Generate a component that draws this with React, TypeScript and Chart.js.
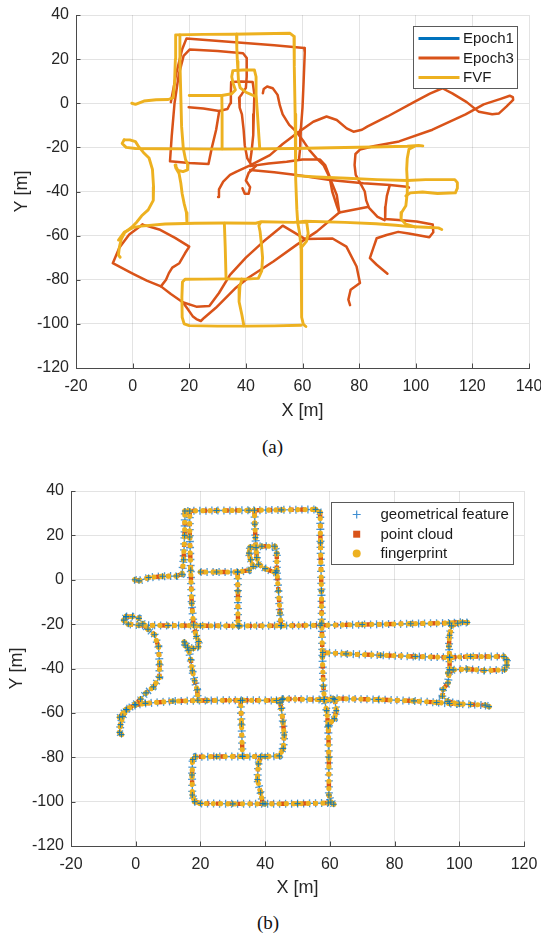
import React, { useEffect, useRef } from "react";
import { Chart, registerables } from "chart.js";

Chart.register(...registerables);

// ---------- axes ----------
const xTicksA = [-20, 0, 20, 40, 60, 80, 100, 120, 140];
const xTicksB = [-20, 0, 20, 40, 60, 80, 100, 120];
const yTicks = [-120, -100, -80, -60, -40, -20, 0, 20, 40];

// ---------- legends ----------
const legendA = ["Epoch1", "Epoch3", "FVF"];
const legendB = ["geometrical feature", "point cloud", "fingerprint"];

// ---------- FVF trajectory (segments, [x, y] in metres) ----------
const fvfA = [[-0.3, 0.0], [1.0, -0.5], [4.0, 1.0], [8.3, 1.6], [12.6, 1.7], [14.3, 2.5], [14.8, 9.0], [15.1, 20.0], [15.2, 31.0], [25.0, 31.2], [35.0, 31.3], [45.0, 31.5], [55.6, 31.7], [57.0, 30.3], [57.1, 16.6], [57.4, -5.0], [57.5, -19.6], [57.7, -34.7], [58.0, -48.0], [58.3, -54.0], [59.0, -59.0], [59.5, -66.0], [59.7, -80.0], [59.7, -97.0], [60.3, -100.2], [61.2, -101.2]];
const fvfB = [[59.5, -100.6], [50.0, -100.9], [40.0, -101.0], [30.0, -101.0], [20.0, -100.8], [18.2, -100.0], [17.5, -97.0], [17.4, -88.0], [17.6, -81.0], [18.5, -79.8], [25.0, -79.7], [33.0, -79.6], [40.0, -79.7], [44.4, -79.4], [45.6, -76.0], [45.9, -70.0], [45.5, -64.0], [45.0, -58.0], [44.6, -55.5], [45.2, -54.0]];
const fvfC = [[-5.0, -62.0], [-3.0, -58.5], [0.0, -56.4], [3.0, -55.7], [11.5, -54.7], [22.0, -54.4], [33.0, -54.3], [43.5, -54.4], [45.5, -53.7], [57.0, -54.0], [61.0, -53.5], [75.0, -54.0], [86.0, -54.6], [93.0, -55.3], [97.0, -55.8], [103.5, -56.2], [108.0, -56.5], [109.2, -57.2]];
const fvfD = [[-3.0, -16.6], [-1.0, -16.6], [1.0, -17.4], [2.2, -19.8], [3.8, -22.3], [5.8, -24.8], [7.0, -30.0], [7.4, -38.0], [7.3, -44.0], [5.5, -48.3], [3.2, -51.0], [1.5, -53.8], [-0.3, -56.2], [-2.8, -58.6], [-4.0, -61.6], [-4.7, -65.3], [-5.0, -68.8], [-4.4, -69.8]];
const fvfE = [[-3.0, -16.6], [-3.7, -18.2], [-2.3, -20.0], [1.0, -20.5], [10.0, -20.6], [20.0, -20.7], [32.0, -20.8], [45.0, -20.7], [57.0, -20.5], [70.0, -20.2], [85.0, -19.8], [97.0, -19.5], [101.0, -19.1], [102.5, -19.3]];
const fvfF = [[99.5, -19.6], [97.6, -20.8], [97.0, -25.0], [96.8, -30.0], [97.0, -35.0], [97.0, -40.5], [96.5, -46.5], [95.0, -49.5], [94.8, -52.5], [96.5, -54.8], [100.0, -56.1]];
const fvfG = [[57.8, -32.8], [65.0, -33.4], [75.7, -34.0], [86.4, -34.6], [97.0, -35.0], [103.5, -34.6], [113.8, -34.6], [114.7, -36.0], [114.7, -38.5], [114.0, -40.6], [107.7, -40.9], [102.4, -40.2], [98.1, -40.6], [96.5, -42.0]];
const fvfH = [[16.7, 31.0], [16.7, 19.3], [17.0, 4.3], [17.3, -10.6], [17.9, -20.4], [18.7, -25.6], [19.5, -27.8], [19.4, -30.2], [17.8, -31.0], [16.0, -30.4], [15.0, -28.0], [15.3, -29.5], [16.4, -31.8], [17.0, -36.0], [17.5, -41.0], [18.2, -45.5], [19.0, -49.6], [19.2, -54.3]];
const fvfI = [[20.0, 3.5], [25.0, 3.5], [31.5, 3.5], [35.0, 4.3], [36.3, 6.0], [35.5, 9.0], [35.0, 12.0], [35.4, 14.8], [39.0, 15.1], [43.0, 15.1], [43.6, 12.0], [43.6, 4.0], [44.1, -5.0], [44.6, -15.0], [44.9, -20.6]];
const fvfJ = [[31.5, 3.5], [31.6, -5.0], [31.6, -20.7]];
const fvfK = [[36.7, 31.3], [36.8, 25.0], [37.0, 19.0], [37.2, 14.5], [37.4, 10.0], [38.0, 7.0], [40.0, 5.0], [43.2, 3.2]];
const fvfL = [[32.4, -54.4], [32.7, -65.0], [33.0, -79.6]];
const fvfM = [[38.6, -79.7], [37.9, -83.0], [37.6, -90.0], [38.6, -96.0], [39.3, -100.9]];
const fvfN = [[58.2, -54.0], [61.5, -54.0], [62.0, -59.0], [61.4, -62.6], [59.5, -65.5]];
const fvfTrack = [fvfA, fvfB, fvfC, fvfD, fvfE, fvfF, fvfG, fvfH, fvfI, fvfJ, fvfK, fvfL, fvfM, fvfN];

// ---------- Epoch3 trajectory ----------
const e3A = [[13.5, 0.5], [15.5, 14.0], [17.5, 24.5], [19.0, 29.3], [35.0, 27.8], [50.0, 26.3], [60.6, 25.0], [60.8, 23.0], [60.4, 10.0], [60.0, -2.0], [59.4, -12.0], [59.2, -20.0], [58.8, -25.0]];
const e3B = [[30.6, -3.5], [29.5, -12.0], [28.0, -20.0], [26.8, -27.5], [20.0, -27.1], [13.2, -26.3], [13.8, -15.0], [14.8, 0.0], [16.3, 13.0], [18.0, 21.5], [20.2, 24.4], [30.0, 23.7], [39.0, 22.7], [40.3, 20.5], [40.3, 12.0], [40.0, 7.0], [38.5, 4.0], [37.6, 2.5], [37.8, -2.0], [38.6, -5.0], [39.2, -12.0], [39.6, -19.0], [40.5, -25.0], [42.0, -28.0]];
const e3C = [[19.8, -1.8], [25.0, -2.4], [30.6, -3.5], [33.5, -2.6], [34.5, 0.0], [34.7, 5.0], [34.8, 9.6], [38.5, 9.9], [42.4, 9.6], [43.0, 4.0], [42.8, -5.0], [42.6, -14.4], [42.0, -22.0], [41.5, -26.5]];
const e3D = [[46.0, 4.5], [46.3, 6.5], [47.5, 7.6], [49.5, 6.8], [51.2, 3.8], [52.0, -1.0], [53.0, -5.0], [55.3, -9.8], [57.9, -13.0], [60.5, -17.5], [62.6, -21.5], [65.0, -25.0], [67.4, -28.0], [69.7, -34.0], [72.1, -41.6], [73.0, -49.5]];
const e3E = [[30.2, -42.5], [30.5, -39.0], [32.0, -35.5], [34.4, -32.5], [36.7, -31.0], [41.5, -28.2], [48.5, -23.5], [53.0, -18.5], [57.9, -13.7], [63.8, -8.4], [68.5, -6.0], [72.1, -7.6], [75.6, -11.4], [78.0, -12.9], [81.0, -12.0], [83.0, -10.5], [90.0, -6.0], [100.0, 1.0], [105.0, 4.4], [109.4, 6.8], [112.9, 4.5], [118.0, 0.5], [122.3, -3.9], [127.0, -5.0], [129.4, -4.6], [132.0, -1.5], [134.4, 1.5], [134.3, 2.8], [133.2, 3.4], [130.0, 2.0], [124.0, -0.5], [117.6, -5.0], [105.9, -12.0], [94.1, -17.3], [85.0, -19.5], [80.3, -21.0], [78.7, -23.0], [78.4, -28.0], [78.8, -32.5], [80.3, -36.0], [82.0, -40.0], [82.5, -44.0], [83.5, -47.4], [86.5, -51.5], [89.0, -53.0]];
const e3F = [[41.5, -28.5], [48.0, -27.3], [54.4, -26.5], [60.0, -25.5], [66.2, -25.5], [68.0, -28.0], [69.5, -33.0], [70.5, -40.0], [72.0, -46.0], [73.0, -49.5], [78.0, -48.3], [83.0, -47.0]];
const e3G = [[41.5, -30.3], [50.0, -31.3], [57.9, -32.5], [69.7, -34.8], [81.5, -36.3], [90.9, -37.1], [96.8, -37.8], [97.6, -38.2]];
const e3H = [[43.5, -28.5], [41.0, -31.5], [40.0, -35.0], [41.5, -38.0], [41.0, -41.0], [39.6, -41.0], [38.8, -38.5]];
const e3I = [[90.8, -37.2], [89.8, -42.0], [89.3, -47.0], [89.2, -52.5], [95.0, -53.0], [100.3, -53.6], [106.0, -55.0], [106.2, -58.5], [104.8, -60.7], [97.5, -59.0], [93.8, -58.3], [89.7, -59.7], [86.2, -61.2], [85.0, -65.7], [83.8, -70.2], [86.2, -73.2], [90.0, -77.3]];
const e3J = [[73.0, -49.5], [65.0, -58.2], [57.9, -64.2], [49.7, -71.7], [41.0, -79.0], [36.5, -83.6], [29.4, -92.7], [25.3, -97.2], [24.1, -98.7], [22.5, -97.8], [21.2, -96.5], [19.2, -92.8], [17.7, -90.2]];
const e3K = [[3.5, -55.0], [9.4, -57.2], [15.0, -61.0], [20.0, -65.0], [18.5, -68.0], [16.5, -72.5], [14.0, -74.5], [12.8, -77.0], [11.8, -80.0], [10.0, -83.0]];
const e3L = [[3.5, -55.0], [-1.2, -59.5], [-4.7, -65.5], [-7.0, -72.5], [0.0, -77.2], [5.0, -80.4], [10.0, -83.0], [13.5, -86.5], [17.7, -90.2], [22.5, -92.2], [27.1, -91.9], [30.5, -86.0], [34.4, -77.8], [40.0, -70.0], [46.2, -62.7], [53.0, -55.5], [57.0, -58.5], [60.8, -61.5], [70.6, -61.3], [75.5, -65.0], [79.1, -74.0], [80.3, -81.5], [77.0, -84.5], [76.2, -89.0], [76.8, -91.5]];
const epoch3Track = [e3A, e3B, e3C, e3D, e3E, e3F, e3G, e3H, e3I, e3J, e3K, e3L];
const epoch1Track: number[][][] = [];

// ---------- styles ----------
const FONT = "'Liberation Sans', Arial, Helvetica, sans-serif";
const SERIF = "'Liberation Serif', 'Times New Roman', serif";
const TEXT = "#262626";
const AXIS = "#4a4a4a";
const GRID = "rgba(38,38,38,0.13)";
const BLUE = "#0072BD";
const RED = "#D95319";
const YELLOW = "#EDB120";

const pts = (seg: number[][]) => seg.map(([x, y]) => ({ x, y }));

type Entry = { label: string; kind: "line" | "plus" | "rect" | "circle"; color: string };
type LegendSpec = { entries: Entry[]; w: number; h: number; inset: number; top: number; rows: number[]; markX: number; textX: number };

function framePlugin(legend: LegendSpec) {
  return {
    id: "frameLegend",
    afterDraw(chart: any) {
      const ctx = chart.ctx as CanvasRenderingContext2D;
      const area = chart.chartArea;
      const xs = chart.scales.x;
      const ys = chart.scales.y;
      ctx.save();
      ctx.strokeStyle = AXIS;
      ctx.lineWidth = 1;
      ctx.beginPath();
      for (const t of xs.ticks) {
        const px = Math.round(xs.getPixelForValue(t.value)) + 0.5;
        ctx.moveTo(px, area.bottom);
        ctx.lineTo(px, area.bottom - 4.5);
      }
      for (const t of ys.ticks) {
        const py = Math.round(ys.getPixelForValue(t.value)) + 0.5;
        ctx.moveTo(area.left, py);
        ctx.lineTo(area.left + 4.5, py);
      }
      ctx.stroke();
      const x0 = Math.round(area.right - legend.inset - legend.w) + 0.5;
      const y0 = Math.round(area.top + legend.top) + 0.5;
      ctx.fillStyle = "#ffffff";
      ctx.fillRect(x0, y0, legend.w, legend.h);
      ctx.strokeStyle = "#5a5a5a";
      ctx.lineWidth = 1;
      ctx.strokeRect(x0, y0, legend.w, legend.h);
      ctx.font = `15px ${FONT}`;
      ctx.textBaseline = "middle";
      ctx.textAlign = "left";
      legend.entries.forEach((e, i) => {
        const cy = y0 + legend.rows[i];
        const mx = x0 + legend.markX;
        if (e.kind === "line") {
          ctx.strokeStyle = e.color;
          ctx.lineWidth = 3;
          ctx.beginPath();
          ctx.moveTo(x0 + 5, cy);
          ctx.lineTo(x0 + 46, cy);
          ctx.stroke();
        } else if (e.kind === "plus") {
          ctx.strokeStyle = "#3f8fd2";
          ctx.lineWidth = 1.2;
          ctx.beginPath();
          ctx.moveTo(mx - 4, cy);
          ctx.lineTo(mx + 4, cy);
          ctx.moveTo(mx, cy - 4);
          ctx.lineTo(mx, cy + 4);
          ctx.stroke();
        } else if (e.kind === "rect") {
          ctx.fillStyle = e.color;
          ctx.fillRect(mx - 3.5, cy - 3.5, 7, 7);
        } else {
          ctx.fillStyle = e.color;
          ctx.beginPath();
          ctx.arc(mx, cy, 4, 0, Math.PI * 2);
          ctx.fill();
        }
        ctx.fillStyle = "#1a1a1a";
        ctx.fillText(e.label, x0 + legend.textX, cy + 0.5);
      });
      ctx.restore();
    },
  };
}

function scales(xTicks: number[], xHeight: number, yWidth: number, yTitlePad: number, xTitlePad: number) {
  const tickFont = { family: FONT, size: 16 };
  const titleFont = { family: FONT, size: 18 };
  return {
    x: {
      type: "linear",
      position: "bottom",
      min: xTicks[0],
      max: xTicks[xTicks.length - 1],
      afterBuildTicks: (s: any) => {
        s.ticks = xTicks.map((v) => ({ value: v }));
      },
      afterFit: (s: any) => {
        s.height = xHeight;
        s.paddingLeft = 0;
        s.paddingRight = 0;
      },
      ticks: { font: tickFont, color: TEXT, padding: 9, maxRotation: 0, autoSkip: false, callback: (v: any) => String(v) },
      grid: { color: GRID, lineWidth: 1, drawTicks: false },
      border: { display: true, color: AXIS, width: 1 },
      title: { display: true, text: "X [m]", font: titleFont, color: TEXT, padding: { top: 0, bottom: xTitlePad } },
    },
    y: {
      type: "linear",
      position: "left",
      min: yTicks[0],
      max: yTicks[yTicks.length - 1],
      afterBuildTicks: (s: any) => {
        s.ticks = yTicks.map((v) => ({ value: v }));
      },
      afterFit: (s: any) => {
        s.width = yWidth;
        s.paddingTop = 0;
        s.paddingBottom = 0;
      },
      ticks: { font: tickFont, color: TEXT, padding: 7, autoSkip: false, callback: (v: any) => String(v) },
      grid: { color: GRID, lineWidth: 1, drawTicks: false },
      border: { display: true, color: AXIS, width: 1 },
      title: { display: true, text: "Y [m]", font: titleFont, color: TEXT, padding: { top: yTitlePad, bottom: 0 } },
    },
  };
}

function configA(): any {
  const datasets: any[] = [];
  const line = (seg: number[][], label: string, color: string, width: number, order: number) => ({
    label,
    data: pts(seg),
    showLine: true,
    borderColor: color,
    backgroundColor: color,
    borderWidth: width,
    borderJoinStyle: "round",
    borderCapStyle: "round",
    pointRadius: 0,
    tension: 0,
    order,
  });
  epoch1Track.forEach((s) => datasets.push(line(s, legendA[0], BLUE, 2.6, 3)));
  epoch3Track.forEach((s) => datasets.push(line(s, legendA[1], RED, 2.5, 2)));
  fvfTrack.forEach((s) => datasets.push(line(s, legendA[2], YELLOW, 2.9, 1)));
  return {
    type: "scatter",
    data: { datasets },
    options: {
      responsive: false,
      animation: false,
      devicePixelRatio: 1,
      layout: { padding: { left: 0, right: 12, top: 15, bottom: 0 } },
      plugins: { legend: { display: false }, tooltip: { enabled: false } },
      scales: scales(xTicksA, 62, 76, 11.7, 8.2),
    },
    plugins: [
      framePlugin({
        entries: [
          { label: legendA[0], kind: "line", color: BLUE },
          { label: legendA[1], kind: "line", color: RED },
          { label: legendA[2], kind: "line", color: YELLOW },
        ],
        w: 104,
        h: 62,
        inset: 12,
        top: 11,
        rows: [12, 31.5, 51],
        markX: 25,
        textX: 49.5,
      }),
    ],
  };
}

function configB(): any {
  const datasets: any[] = [];
  fvfTrack.forEach((s) => {
    // geometrical feature: along-path arms
    datasets.push({
      label: legendB[0],
      data: pts(s),
      showLine: true,
      borderColor: "rgba(0,114,189,0.75)",
      borderWidth: 1.4,
      borderJoinStyle: "round",
      pointRadius: 0,
      order: 7,
    });
    // geometrical feature: cross arms
    datasets.push({
      label: legendB[0],
      data: pts(s),
      showLine: true,
      borderColor: "rgba(30,125,200,0.8)",
      borderWidth: 8,
      borderDash: [1.3, 4.7],
      borderCapStyle: "butt",
      borderJoinStyle: "round",
      pointRadius: 0,
      order: 6,
    });
    // point cloud (squares)
    datasets.push({
      label: legendB[1],
      data: pts(s),
      showLine: true,
      borderColor: RED,
      borderWidth: 4.4,
      borderDash: [4.4, 6.4],
      borderCapStyle: "butt",
      borderJoinStyle: "round",
      pointStyle: "rect",
      pointRadius: 2.6,
      pointBorderWidth: 0,
      pointBackgroundColor: RED,
      order: 4,
    });
    // fingerprint (circles)
    datasets.push({
      label: legendB[2],
      data: pts(s),
      showLine: true,
      borderColor: YELLOW,
      borderWidth: 5.2,
      borderDash: [0.01, 7.3],
      borderDashOffset: 2,
      borderCapStyle: "round",
      borderJoinStyle: "round",
      pointStyle: "circle",
      pointRadius: 2.7,
      pointBorderWidth: 0,
      pointBackgroundColor: YELLOW,
      order: 3,
    });
    // geometrical feature markers at the waypoints
    datasets.push({
      label: legendB[0],
      data: pts(s),
      showLine: false,
      pointStyle: "cross",
      pointRadius: 3,
      pointBorderWidth: 1.1,
      pointBorderColor: "rgba(0,114,189,0.85)",
      order: 2,
    });
  });
  return {
    type: "scatter",
    data: { datasets },
    options: {
      responsive: false,
      animation: false,
      devicePixelRatio: 1,
      layout: { padding: { left: 0, right: 17, top: 31, bottom: 0 } },
      plugins: { legend: { display: false }, tooltip: { enabled: false } },
      scales: scales(xTicksB, 61, 71, 6.5, 7.9),
    },
    plugins: [
      framePlugin({
        entries: [
          { label: legendB[0], kind: "plus", color: BLUE },
          { label: legendB[1], kind: "rect", color: RED },
          { label: legendB[2], kind: "circle", color: YELLOW },
        ],
        w: 182,
        h: 62,
        inset: 11,
        top: 11.3,
        rows: [12, 31.7, 51],
        markX: 25.2,
        textX: 49,
      }),
    ],
  };
}

function ChartCanvas({ make, top, height }: { make: () => any; top: number; height: number }) {
  const ref = useRef<HTMLCanvasElement>(null);
  useEffect(() => {
    if (!ref.current) return;
    const chart = new Chart(ref.current, make());
    return () => chart.destroy();
  }, [make]);
  return (
    <canvas
      ref={ref}
      width={541}
      height={height}
      style={{ position: "absolute", left: 0, top, width: 541, height, display: "block" }}
    />
  );
}

const captionStyle = (left: number, top: number): React.CSSProperties => ({
  position: "absolute",
  left: left - 40,
  top,
  width: 80,
  textAlign: "center",
  fontFamily: SERIF,
  fontSize: 19,
  lineHeight: "22px",
  color: "#111",
});

export default function App() {
  return (
    <div style={{ position: "absolute", left: 0, top: 0, width: 541, height: 937, background: "#fff", overflow: "hidden" }}>
      <ChartCanvas make={configA} top={0} height={430} />
      <div style={captionStyle(272.5, 436)}>(a)</div>
      <ChartCanvas make={configB} top={460} height={447} />
      <div style={captionStyle(268, 912)}>(b)</div>
    </div>
  );
}
